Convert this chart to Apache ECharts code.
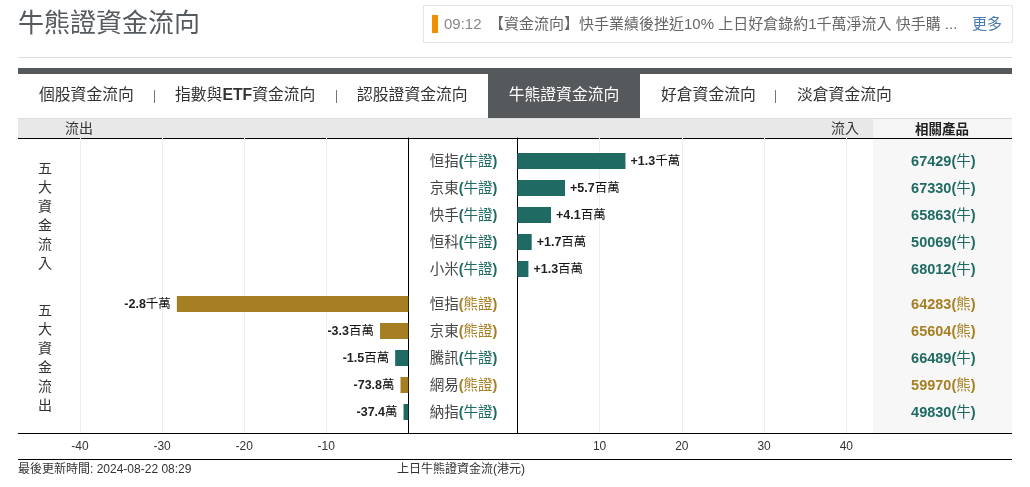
<!DOCTYPE html>
<html>
<head>
<meta charset="utf-8">
<title>牛熊證資金流向</title>
<style>
html, body { margin: 0; padding: 0; background: #fff; }
#main { width: 1030px; height: 487px; }
</style>
<script src="https://cdn.jsdelivr.net/npm/echarts@6/dist/echarts.min.js"></script>
</head>
<body>
<div id="main"></div>
<script>
// 流入
var inNames = ['恒指', '京東', '快手', '恒科', '小米'];
var inTypes = ['牛', '牛', '牛', '牛', '牛'];
var inValues = [13.15, 5.8, 4.1, 1.75, 1.35];
var inLabels = ['+1.3千萬', '+5.7百萬', '+4.1百萬', '+1.7百萬', '+1.3百萬'];
var inCodes = ['67429', '67330', '65863', '50069', '68012'];

// 流出
var outNames = ['恒指', '京東', '騰訊', '網易', '納指'];
var outTypes = ['熊', '熊', '牛', '熊', '牛'];
var outValues = [-28.2, -3.45, -1.6, -0.95, -0.58];
var outLabels = ['-2.8千萬', '-3.3百萬', '-1.5百萬', '-73.8萬', '-37.4萬'];
var outCodes = ['64283', '65604', '66489', '59970', '49830'];

var axisMax = 40;
var axisStep = 10;

var tabs = [
    {text: '個股資金流向', x: 39},
    {text: '指數與{e|ETF}資金流向', x: 175},
    {text: '認股證資金流向', x: 357},
    {text: '好倉資金流向', x: 661},
    {text: '淡倉資金流向', x: 797}
];
var tabSeparators = [154, 336, 775];
var activeTab = '牛熊證資金流向';
var newsTime = '09:12';
var newsText = '【資金流向】快手業績後挫近10% 上日好倉錄約1千萬淨流入 快手購 ...';

var FONT = '"Liberation Sans", "Noto Sans CJK TC", sans-serif';
var BULL = '#1f6b63';
var BEAR = '#a67f22';
var GRID_LINE = '#eeeeee';

function typeColor(t) {
    return t === '牛' ? BULL : BEAR;
}

function rect(x, y, w, h, color) {
    return {type: 'rect', shape: {x: x, y: y, width: w, height: h}, style: {fill: color}, silent: true};
}

function text(x, y, str, size, color, extra) {
    var style = {x: x, y: y, text: str, fontSize: size, fill: color, fontFamily: FONT, verticalAlign: 'middle'};
    for (var k in (extra || {})) {
        style[k] = extra[k];
    }
    return {type: 'text', style: style, silent: true};
}

function hline(y, color) {
    return rect(18, y, 994, 1, color);
}

// 頁面外框: 標題, 新聞列, 分頁, 表頭
var chrome = [
    text(18, 25, '牛熊證資金流向', 26, '#555a5e'),
    {type: 'rect', shape: {x: 423.5, y: 5.5, width: 589, height: 37}, style: {fill: '#fff', stroke: '#e4e4e4', lineWidth: 1}, silent: true},
    rect(432, 15, 6, 18, '#ee9000'),
    text(444, 24.5, newsTime, 15, '#888888'),
    text(489, 24.5, newsText, 15, '#666666'),
    text(972, 24.5, '更多', 15, '#4a7ab0'),
    hline(57, '#dddddd'),
    rect(18, 68, 994, 6, '#55595c'),
    rect(488, 74, 152, 44, '#55595c'),
    text(564, 96, activeTab, 15.8, '#ffffff', {align: 'center'}),
    rect(18, 118, 855, 20, '#e8e8e8'),
    rect(873, 118, 139, 20, '#f5f5f5'),
    hline(118, '#dddddd'),
    text(65, 129.5, '流出', 14, '#333333'),
    text(831, 129.5, '流入', 14, '#333333'),
    text(942, 130, '相關產品', 13.5, '#222222', {align: 'center', fontWeight: 'bold'}),
    rect(873, 139, 139, 294, '#f7f7f7'),
    hline(138, '#000000'),
    hline(433, '#000000'),
    hline(459, '#000000'),
    text(45, 216.5, '五\n大\n資\n金\n流\n入', 14, '#333333', {align: 'center', lineHeight: 19}),
    text(45, 359, '五\n大\n資\n金\n流\n出', 14, '#333333', {align: 'center', lineHeight: 19}),
    text(18, 470, '最後更新時間: 2024-08-22 08:29', 12, '#333333'),
    text(397, 470, '上日牛熊證資金流(港元)', 12, '#333333')
];
tabs.forEach(function (t) {
    chrome.push(text(t.x, 96, t.text, 15.8, '#333333', {
        rich: {e: {fontSize: 15.8, fontWeight: 'bold', fill: '#333333', fontFamily: FONT}}
    }));
});
tabSeparators.forEach(function (x) {
    chrome.push(rect(x, 90, 1, 13, '#777777'));
});

var nameRich = {
    n: {fontSize: 14.5, color: '#444444', fontFamily: FONT},
    bull: {fontSize: 14.5, color: BULL, fontFamily: FONT},
    bullP: {fontSize: 14.5, fontWeight: 'bold', color: BULL, fontFamily: FONT},
    bear: {fontSize: 14.5, color: BEAR, fontFamily: FONT},
    bearP: {fontSize: 14.5, fontWeight: 'bold', color: BEAR, fontFamily: FONT}
};
var codeRich = {
    bullP: {fontSize: 14.5, fontWeight: 'bold', color: BULL, fontFamily: FONT},
    bull: {fontSize: 14.5, color: BULL, fontFamily: FONT},
    bearP: {fontSize: 14.5, fontWeight: 'bold', color: BEAR, fontFamily: FONT},
    bear: {fontSize: 14.5, color: BEAR, fontFamily: FONT}
};
var valueRich = {
    num: {fontSize: 12.5, fontWeight: 'bold', color: '#222222', fontFamily: FONT},
    unit: {fontSize: 12.5, color: '#111111', fontFamily: FONT}
};

// 背景格線與刻度
function backX(gridIndex, min, max) {
    return {
        gridIndex: gridIndex, type: 'value', min: min, max: max, interval: axisStep,
        axisLine: {show: false}, axisTick: {show: false},
        splitLine: {lineStyle: {color: GRID_LINE}},
        axisLabel: {
            color: '#333333', fontSize: 12, fontFamily: FONT, margin: 8,
            formatter: function (v) { return v === 0 ? '' : String(v); }
        }
    };
}
function backY(gridIndex, position) {
    return {
        gridIndex: gridIndex, type: 'category', data: [''], position: position,
        axisLine: {lineStyle: {color: '#000000', width: 1}}, axisTick: {show: false}, axisLabel: {show: false}
    };
}
function barX(gridIndex, min, max) {
    return {gridIndex: gridIndex, type: 'value', min: min, max: max, show: false};
}
function barY(gridIndex, names, position) {
    return {
        gridIndex: gridIndex, type: 'category', inverse: true, data: names, position: position,
        axisLine: {show: false}, axisTick: {show: false}, axisLabel: {show: false}
    };
}
function nameAxis(gridIndex, names, types) {
    var a = barY(gridIndex, names, 'left');
    a.axisLabel = {
        show: true, margin: 20, rich: nameRich, padding: [2, 0, 0, 0],
        formatter: function (v, i) {
            var k = types[i] === '牛' ? 'bull' : 'bear';
            return '{n|' + v + '}{' + k + 'P|(}{' + k + '|' + types[i] + '證}{' + k + 'P|)}';
        }
    };
    return a;
}
function codeAxis(gridIndex, codes, types) {
    var a = barY(gridIndex, codes, 'right');
    a.axisLabel = {
        show: true, margin: 97, align: 'center', rich: codeRich, padding: [2, 0, 0, 0],
        formatter: function (v, i) {
            var k = types[i] === '牛' ? 'bull' : 'bear';
            return '{' + k + 'P|' + v + '(}{' + k + '|' + types[i] + '}{' + k + 'P|)}';
        }
    };
    return a;
}
function barSeries(xi, yi, values, types, labels, position, distance) {
    return {
        type: 'bar', xAxisIndex: xi, yAxisIndex: yi, barWidth: 16, silent: true, animation: false,
        data: values.map(function (v, i) {
            return {value: v, itemStyle: {color: typeColor(types[i])}};
        }),
        label: {
            show: true, position: position, distance: distance, offset: [0, 1], rich: valueRich,
            formatter: function (p) {
                var s = labels[p.dataIndex];
                var n = s.search(/[千百萬]/);
                return '{num|' + s.slice(0, n) + '}{unit|' + s.slice(n) + '}';
            }
        }
    };
}

var LEFT_X = 80, LEFT_W = 328.3, RIGHT_X = 517.3, RIGHT_W = 329;
var TOP_IN = 147.5, TOP_OUT = 290.5, ROWS_H = 135;

var option = {
    animation: false,
    backgroundColor: '#ffffff',
    textStyle: {fontFamily: FONT},
    graphic: chrome,
    grid: [
        {left: LEFT_X, width: LEFT_W, top: 138, height: 295},
        {left: RIGHT_X, width: RIGHT_W, top: 138, height: 295},
        {left: LEFT_X, width: LEFT_W, top: TOP_IN, height: ROWS_H},
        {left: RIGHT_X, width: RIGHT_W, top: TOP_IN, height: ROWS_H},
        {left: LEFT_X, width: LEFT_W, top: TOP_OUT, height: ROWS_H},
        {left: RIGHT_X, width: RIGHT_W, top: TOP_OUT, height: ROWS_H}
    ],
    xAxis: [
        backX(0, -axisMax, 0),
        backX(1, 0, axisMax),
        barX(2, -axisMax, 0),
        barX(3, 0, axisMax),
        barX(4, -axisMax, 0),
        barX(5, 0, axisMax)
    ],
    yAxis: [
        backY(0, 'right'),
        backY(1, 'left'),
        barY(2, inNames, 'right'),
        nameAxis(3, inNames, inTypes),
        codeAxis(3, inCodes, inTypes),
        barY(4, outNames, 'right'),
        nameAxis(5, outNames, outTypes),
        codeAxis(5, outCodes, outTypes)
    ],
    series: [
        barSeries(3, 3, inValues, inTypes, inLabels, 'right', 5),
        barSeries(4, 5, outValues, outTypes, outLabels, 'left', 6)
    ]
};

var myChart = echarts.init(document.getElementById('main'));
myChart.setOption(option);
</script>
</body>
</html>
